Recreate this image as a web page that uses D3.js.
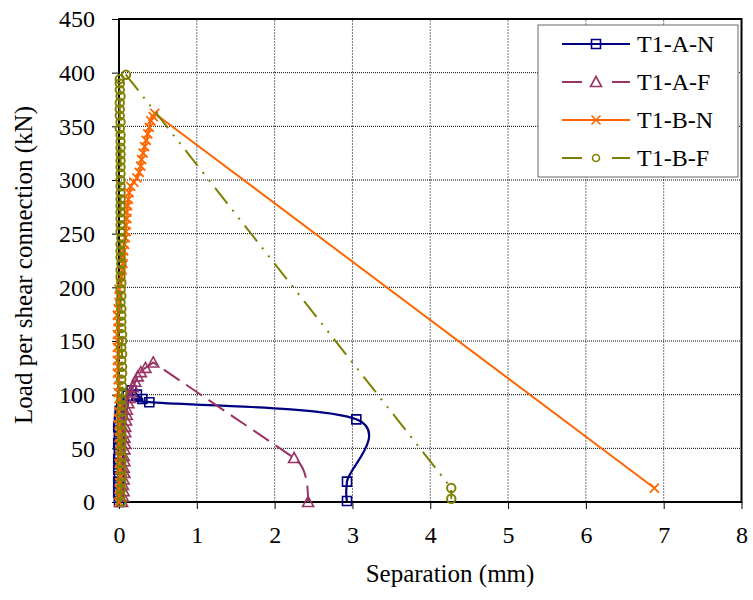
<!DOCTYPE html>
<html>
<head>
<meta charset="utf-8">
<script src="https://cdn.jsdelivr.net/npm/d3@7"></script>
<style>
  body { margin: 0; background: #fff; }
  svg text { font-family: "Liberation Serif", Tinos, "DejaVu Serif", "Times New Roman", serif; fill: #000; }
</style>
</head>
<body>
<svg id="chart" width="753" height="600"></svg>
<script>
// tick values
var xTicks = [0, 1, 2, 3, 4, 5, 6, 7, 8];
var yTicks = [0, 50, 100, 150, 200, 250, 300, 350, 400, 450];

// series: [separation (mm), load (kN)]
var t1AN = [[0.00,0],[0.00,4],[-0.01,9],[0.00,14],[-0.01,19],[0.00,24],[-0.01,30],[0.00,35],
    [-0.01,40],[0.00,45],[0.00,50],[-0.01,55],[0.00,60],[0.00,65],[-0.01,70],[0.00,75],
    [0.01,80],[0.01,85],[0.03,89],[0.06,94],[0.11,99],[0.16,104],[0.23,100],[0.30,96],
    [0.39,93],[3.05,77],[2.93,19],[2.93,1]];

var t1AF = [[0.04,0],[0.05,5],[0.06,10],[0.05,16],[0.06,21],[0.07,27],[0.06,32],[0.07,38],
    [0.06,43],[0.07,49],[0.08,54],[0.07,60],[0.08,65],[0.08,70],[0.09,76],[0.10,81],
    [0.10,86],[0.12,92],[0.14,97],[0.16,102],[0.18,107],[0.21,112],[0.24,117],[0.28,121],
    [0.34,125],[0.44,130],[2.25,41],[2.43,0]];

var t1BN = [[0.00,0],[0.01,6],[0.00,12],[0.01,18],[0.02,24],[0.01,30],[0.00,36],[0.01,42],
    [0.02,48],[0.01,54],[0.00,60],[0.01,66],[0.00,72],[-0.01,78],[0.00,84],[0.01,90],
    [0.00,96],[-0.01,102],[0.00,108],[-0.01,114],[-0.02,120],[-0.01,126],[-0.02,132],[-0.01,138],
    [-0.02,144],[-0.01,150],[-0.02,156],[-0.01,162],[-0.01,168],[-0.02,174],[-0.01,180],[0.00,186],
    [0.01,192],[0.00,198],[0.02,204],[0.03,210],[0.04,216],[0.05,222],[0.05,228],[0.06,234],
    [0.07,240],[0.08,246],[0.09,252],[0.09,258],[0.10,264],[0.10,270],[0.11,276],[0.12,282],
    [0.13,288],[0.15,294],[0.19,298],[0.23,302],[0.26,307],[0.28,313],[0.29,319],[0.31,325],
    [0.33,331],[0.35,337],[0.37,343],[0.39,349],[0.41,355],[0.44,359],[0.46,362],[6.88,13]];

var t1BF = [[0.03,0],[0.02,6],[0.03,12],[0.03,18],[0.04,24],[0.03,30],[0.03,36],[0.04,42],
    [0.03,48],[0.03,54],[0.04,60],[0.03,66],[0.03,72],[0.04,78],[0.03,84],[0.04,90],
    [0.03,96],[0.04,102],[0.04,108],[0.03,114],[0.04,120],[0.04,126],[0.03,132],[0.04,138],
    [0.03,144],[0.04,150],[0.04,156],[0.03,162],[0.03,168],[0.03,174],[0.03,180],[0.02,186],
    [0.03,192],[0.02,198],[0.03,204],[0.02,210],[0.02,216],[0.03,222],[0.02,228],[0.02,234],
    [0.02,240],[0.03,246],[0.02,252],[0.02,258],[0.02,264],[0.02,270],[0.02,276],[0.02,282],
    [0.02,288],[0.02,294],[0.02,300],[0.02,306],[0.02,312],[0.02,318],[0.02,324],[0.02,330],
    [0.02,336],[0.02,342],[0.01,348],[0.02,354],[0.01,360],[0.01,366],[0.01,372],[0.02,378],
    [0.01,384],[0.01,390],[0.01,394],[0.09,398],[4.27,13],[4.27,3]];

var seriesNames = ["T1-A-N", "T1-A-F", "T1-B-N", "T1-B-F"];

var serif = "\"Liberation Serif\", Tinos, \"DejaVu Serif\", \"Times New Roman\", serif";

var svg = d3.select("#chart");

var x = d3.scaleLinear().domain([0, 8]).range([119, 741.5]);
var y = d3.scaleLinear().domain([0, 450]).range([502, 19]);

// marker shapes
var markerPath = {
    square: "M-4.5,-4.5h9v9h-9Z",
    triangle: "M0,-5.5L5.5,4.5L-5.5,4.5Z",
    cross: "M-4.5,-4.5L4.5,4.5M-4.5,4.5L4.5,-4.5",
    circle: "M-4.2,0a4.2,4.2 0 1,0 8.4,0a4.2,4.2 0 1,0 -8.4,0"
};
var legendCircle = "M-3.5,0a3.5,3.5 0 1,0 7,0a3.5,3.5 0 1,0 -7,0";

// smooth: "cr" = catmull-rom all the way, "tail" = straight lines, last segment bends down
var series = [
    { name: seriesNames[0], data: t1AN, color: "#000080", width: 2.2, dash: null, smooth: "cr", marker: "square", mw: 1.6 },
    { name: seriesNames[1], data: t1AF, color: "#993366", width: 2, dash: "19,8", smooth: "tail", marker: "triangle", mw: 1.6 },
    { name: seriesNames[2], data: t1BN, color: "#FF6600", width: 2, dash: null, smooth: null, marker: "cross", mw: 1.8 },
    { name: seriesNames[3], data: t1BF, color: "#808000", width: 2, dash: "20,8,2,8,2,8", smooth: null, marker: "circle", mw: 2 }
];

// grid
svg.append("g").selectAll("line")
    .data(xTicks.slice(1, -1))
    .enter().append("line")
    .attr("x1", d => x(d)).attr("x2", d => x(d))
    .attr("y1", y(0)).attr("y2", y(450))
    .attr("stroke", "#777").attr("stroke-width", 1)
    .attr("stroke-dasharray", "2,1");

svg.append("g").selectAll("line")
    .data(yTicks.slice(1, -1))
    .enter().append("line")
    .attr("x1", x(0)).attr("x2", x(8))
    .attr("y1", d => y(d)).attr("y2", d => y(d))
    .attr("stroke", "#000").attr("stroke-width", 1)
    .attr("stroke-dasharray", "1,1");

// axes
var xAxis = svg.append("g")
    .attr("transform", "translate(0," + y(0) + ")")
    .call(d3.axisBottom(x).tickValues(xTicks).tickFormat(d3.format("d"))
        .tickSizeInner(7).tickSizeOuter(0).tickPadding(17));

var yAxis = svg.append("g")
    .attr("transform", "translate(" + x(0) + ",0)")
    .call(d3.axisLeft(y).tickValues(yTicks).tickFormat(d3.format("d"))
        .tickSizeInner(7).tickSizeOuter(0).tickPadding(17));

[xAxis, yAxis].forEach(function(g) {
    g.attr("font-family", serif);
    g.select(".domain").remove();
    g.selectAll(".tick line").attr("stroke", "#000").attr("stroke-width", 1);
    g.selectAll(".tick text")
        .style("font-family", serif)
        .style("font-size", "24px")
        .attr("fill", "#000");
});

// plot frame
svg.append("rect")
    .attr("x", x(0)).attr("y", y(450))
    .attr("width", x(8) - x(0)).attr("height", y(0) - y(450))
    .attr("fill", "none").attr("stroke", "#000").attr("stroke-width", 2);

function seriesPath(s) {
    var line = d3.line().x(d => x(d[0])).y(d => y(d[1]));
    if (s.smooth == "cr") {
        return line.curve(d3.curveCatmullRom.alpha(0))(s.data);
    }
    if (s.smooth == "tail") {
        // straight through all but the last point, then a cubic that keeps the
        // incoming direction and lands vertically on the last point
        var n = s.data.length;
        var p = s.data[n - 3], a = s.data[n - 2], b = s.data[n - 1];
        var px = x(p[0]), py = y(p[1]), ax = x(a[0]), ay = y(a[1]), bx = x(b[0]), by = y(b[1]);
        var din = Math.hypot(ax - px, ay - py);
        var len = Math.hypot(bx - ax, by - ay) / 3;
        var c1x = ax + (ax - px) / din * len, c1y = ay + (ay - py) / din * len;
        var head = line.curve(d3.curveLinear)(s.data.slice(0, n - 1));
        return head + "C" + c1x + "," + c1y + "," + bx + "," + (by - len) + "," + bx + "," + by;
    }
    return line.curve(d3.curveLinear)(s.data);
}

// series lines and markers
series.forEach(function(s) {
    svg.append("path")
        .attr("d", seriesPath(s))
        .attr("fill", "none")
        .attr("stroke", s.color)
        .attr("stroke-width", s.width)
        .attr("stroke-dasharray", s.dash);

    svg.append("g").selectAll("path")
        .data(s.data)
        .enter().append("path")
        .attr("transform", d => "translate(" + x(d[0]) + "," + y(d[1]) + ")")
        .attr("d", markerPath[s.marker])
        .attr("fill", "none")
        .attr("stroke", s.color)
        .attr("stroke-width", s.mw);
});

// legend
var legend = svg.append("g");
legend.append("rect")
    .attr("x", 538).attr("y", 25).attr("width", 200).attr("height", 152)
    .attr("fill", "#fff").attr("stroke", "#666").attr("stroke-width", 1);

series.forEach(function(s, i) {
    var ly = 44 + i * 38;
    var row = legend.append("g");
    if (s.dash) {
        row.append("line").attr("x1", 562).attr("x2", 582).attr("y1", ly).attr("y2", ly)
            .attr("stroke", s.color).attr("stroke-width", s.width);
        row.append("line").attr("x1", 612).attr("x2", 630).attr("y1", ly).attr("y2", ly)
            .attr("stroke", s.color).attr("stroke-width", s.width);
    } else {
        row.append("line").attr("x1", 562).attr("x2", 630).attr("y1", ly).attr("y2", ly)
            .attr("stroke", s.color).attr("stroke-width", s.width);
    }
    row.append("path")
        .attr("transform", "translate(596," + ly + ")")
        .attr("d", s.marker == "circle" ? legendCircle : markerPath[s.marker])
        .attr("fill", s.marker == "circle" ? "#fff" : "none")
        .attr("stroke", s.color).attr("stroke-width", 1.6);
    row.append("text")
        .attr("x", 637).attr("y", ly)
        .attr("dy", "0.35em")
        .style("font-family", serif)
        .style("font-size", "24px")
        .text(s.name);
});

// axis titles
svg.append("text")
    .attr("x", 450).attr("y", 582)
    .attr("text-anchor", "middle")
    .style("font-family", serif)
    .style("font-size", "25px")
    .text("Separation (mm)");

svg.append("text")
    .attr("transform", "translate(32,265) rotate(-90)")
    .attr("text-anchor", "middle")
    .style("font-family", serif)
    .style("font-size", "25px")
    .text("Load per shear connection (kN)");
</script>
</body>
</html>
